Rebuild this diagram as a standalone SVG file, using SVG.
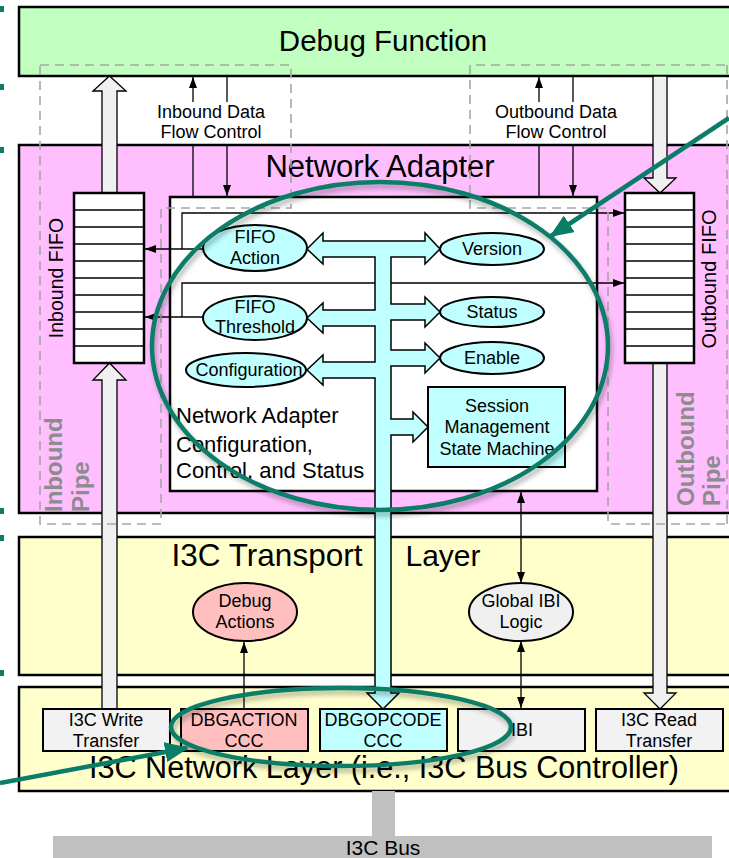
<svg xmlns="http://www.w3.org/2000/svg" width="729" height="858" viewBox="0 0 729 858">
<style>
text{font-family:"Liberation Sans",Arial,sans-serif;fill:#000}
.layer{stroke:#000;stroke-width:2.5}
.big{font-size:31px}
.sm{font-size:18px}
.node{stroke:#000;stroke-width:2}
.fifo{fill:#fff;stroke:#000;stroke-width:2.5}
.cell{stroke:#000;stroke-width:1.3}
.thin{fill:none;stroke:#000;stroke-width:1.3}
.dash{fill:none;stroke:#a6a6a6;stroke-width:1.6;stroke-dasharray:9,6}
.garrow{fill:#f0f0f0;stroke:#000;stroke-width:1.3}
.pipe{font-size:24px;font-weight:bold;fill:#8c8c8c}
.teal{fill:none;stroke:#0a7d68;stroke-width:4.5}
.mark{fill:#0a7d68}
</style>
<defs>
<marker id="ah" viewBox="0 0 11 8" refX="11" refY="4" markerWidth="11" markerHeight="8" markerUnits="userSpaceOnUse" orient="auto-start-reverse"><path d="M0,0 L11,4 L0,8 z" fill="#000"/></marker>
<marker id="th" viewBox="0 0 24 20" refX="22" refY="10" markerWidth="24" markerHeight="20" markerUnits="userSpaceOnUse" orient="auto"><path d="M0,0 L24,10 L0,20 z" fill="#0a7d68"/></marker>
<filter id="sh" x="-10%" y="-10%" width="120%" height="130%"><feDropShadow dx="2" dy="4" stdDeviation="2.5" flood-color="#000" flood-opacity="0.3"/></filter>
</defs>

<!-- layers -->
<g id="debug-function"><rect class="layer" x="19" y="7" width="730" height="69" fill="#c0ffc0"/><text x="383" y="51" text-anchor="middle" style="font-size:29.5px">Debug Function</text></g>
<g id="network-adapter"><rect class="layer" x="19" y="145" width="730" height="368" fill="#ffbfff"/><text class="big" x="380" y="177" text-anchor="middle">Network Adapter</text></g>
<g id="transport-layer"><rect class="layer" x="19" y="537" width="730" height="138" fill="#ffffcc"/><text class="big" x="267" y="566" text-anchor="middle" style="font-size:31.5px">I3C Transport</text><text class="big" x="443" y="566" text-anchor="middle" style="font-size:30px">Layer</text></g>
<g id="network-layer"><rect class="layer" x="19" y="687" width="730" height="104" fill="#ffffcc"/><text x="384" y="778" text-anchor="middle" style="font-size:30.6px">I3C Network Layer (i.e., I3C Bus Controller)</text></g>
<g id="i3c-bus"><rect x="372" y="791" width="23" height="46" fill="#c0c0c0"/><rect x="53" y="836" width="659" height="24" fill="#c0c0c0"/><text x="383" y="855" text-anchor="middle" style="font-size:21px">I3C Bus</text></g>

<!-- inner box -->
<g id="na-config"><rect x="170" y="197" width="427" height="294" fill="#fff" stroke="#000" stroke-width="2.5"/></g>

<!-- big gray arrows and connectors -->
<g id="connectors">
<polygon class="garrow" points="102,193 102,91 93,91 109.5,76 126,91 117,91 117,193"/>
<polygon class="garrow" points="102,709 102,380 93,380 109.5,363 126,380 117,380 117,709"/>
<polygon class="garrow" points="653,76 653,178 644,178 660,193 676,178 667,178 667,76"/>
<polygon class="garrow" points="653,363 653,693 644,693 660,709 676,693 667,693 667,363"/>

<line class="thin" x1="193" y1="197" x2="193" y2="145"/>
<line class="thin" x1="193" y1="102" x2="193" y2="77" marker-end="url(#ah)"/>
<line class="thin" x1="227" y1="76" x2="227" y2="102"/>
<line class="thin" x1="227" y1="145" x2="227" y2="196" marker-end="url(#ah)"/>
<line class="thin" x1="539" y1="197" x2="539" y2="145"/>
<line class="thin" x1="539" y1="102" x2="539" y2="77" marker-end="url(#ah)"/>
<line class="thin" x1="573" y1="76" x2="573" y2="102"/>
<line class="thin" x1="573" y1="145" x2="573" y2="196" marker-end="url(#ah)"/>

<polyline class="thin" points="182,249 182,213 624,213" marker-end="url(#ah)"/>
<polyline class="thin" points="182,317 182,283 624,283" marker-end="url(#ah)"/>
<line class="thin" x1="203" y1="249" x2="145" y2="249" marker-end="url(#ah)"/>
<line class="thin" x1="203" y1="317" x2="145" y2="317" marker-end="url(#ah)"/>

<line class="thin" x1="521" y1="583" x2="521" y2="492" marker-start="url(#ah)" marker-end="url(#ah)"/>
<line class="thin" x1="521" y1="641" x2="521" y2="708" marker-start="url(#ah)" marker-end="url(#ah)"/>
<line class="thin" x1="244" y1="709" x2="244" y2="642" marker-end="url(#ah)"/>

<polygon fill="#bfffff" stroke="#000" stroke-width="1.5" points="307,249 323,233 323,241 425,241 425,233 440,249 425,264 425,257 391,257 391,304 425,304 425,297 440,312 425,327 425,320 391,320 391,350 425,350 425,343 440,358 425,373 425,366 391,366 391,419 413,419 413,412 428,427 413,442 413,435 391,435 391,693 399,693 383,709 367,693 375,693 375,378 323,378 323,385 307,370 323,355 323,362 375,362 375,326 323,326 323,333 307,318 323,303 323,310 375,310 375,257 323,257 323,264"/>
</g>

<!-- dashed pipe outlines -->
<g id="inbound-pipe"><polygon class="dash" points="40,65 291,65 291,208 161,208 161,524 40,524"/>
<text class="pipe" transform="translate(62,512) rotate(-90)">Inbound</text><text class="pipe" transform="translate(89,512) rotate(-90)">Pipe</text></g>
<g id="outbound-pipe"><polyline class="dash" points="740,65 470,65 470,208 608,208 608,524 740,524"/><line class="dash" x1="727" y1="65" x2="727" y2="524"/>
<text class="pipe" transform="translate(694,506) rotate(-90)">Outbound</text><text class="pipe" transform="translate(720,506) rotate(-90)">Pipe</text></g>

<text class="sm" x="211" y="118" text-anchor="middle">Inbound Data</text>
<text class="sm" x="211" y="138" text-anchor="middle">Flow Control</text>
<text class="sm" x="556" y="118" text-anchor="middle">Outbound Data</text>
<text class="sm" x="556" y="138" text-anchor="middle">Flow Control</text>

<!-- FIFOs -->
<g id="inbound-fifo"><rect class="fifo" x="74" y="193" width="70" height="170"/>
<path class="cell" d="M74,210H144M74,227H144M74,244H144M74,261H144M74,278H144M74,295H144M74,312H144M74,329H144M74,346H144"/>
<text transform="translate(63,278) rotate(-90)" text-anchor="middle" style="font-size:19.5px">Inbound FIFO</text></g>
<g id="outbound-fifo"><rect class="fifo" x="625" y="193" width="69" height="170"/>
<path class="cell" d="M625,210H694M625,227H694M625,244H694M625,261H694M625,278H694M625,295H694M625,312H694M625,329H694M625,346H694"/>
<text transform="translate(716,279) rotate(-90)" text-anchor="middle" style="font-size:20px">Outbound FIFO</text></g>

<!-- nodes -->
<g id="fifo-action"><ellipse class="node" cx="255" cy="248" rx="52" ry="23" fill="#bfffff"/><text class="sm" x="255" y="243" text-anchor="middle">FIFO</text><text class="sm" x="255" y="264" text-anchor="middle">Action</text></g>
<g id="fifo-threshold"><ellipse class="node" cx="255" cy="318" rx="52" ry="22" fill="#bfffff"/><text class="sm" x="255" y="313" text-anchor="middle">FIFO</text><text class="sm" x="255" y="333" text-anchor="middle">Threshold</text></g>
<g id="configuration"><ellipse class="node" cx="246" cy="370" rx="60" ry="17" fill="#bfffff"/><text class="sm" x="249" y="376" text-anchor="middle">Configuration</text></g>
<g id="version"><ellipse class="node" cx="492" cy="249" rx="52" ry="16" fill="#bfffff"/><text class="sm" x="492" y="255" text-anchor="middle">Version</text></g>
<g id="status"><ellipse class="node" cx="492" cy="312" rx="52" ry="15" fill="#bfffff"/><text class="sm" x="492" y="318" text-anchor="middle">Status</text></g>
<g id="enable"><ellipse class="node" cx="492" cy="358" rx="52" ry="16" fill="#bfffff"/><text class="sm" x="492" y="364" text-anchor="middle">Enable</text></g>
<g id="session"><rect class="node" x="428" y="387" width="137" height="80" fill="#bfffff" stroke-width="2.5"/><text class="sm" x="497" y="412" text-anchor="middle">Session</text><text class="sm" x="497" y="433" text-anchor="middle">Management</text><text class="sm" x="497" y="455" text-anchor="middle">State Machine</text></g>
<g id="na-config-label"><text x="176" y="423" style="font-size:22px">Network Adapter</text><text x="176" y="452" style="font-size:22px">Configuration,</text><text x="176" y="478" style="font-size:22px">Control, and Status</text></g>

<g id="debug-actions"><ellipse class="node" cx="245" cy="612" rx="52" ry="29" fill="#ffbfbf"/><text class="sm" x="245" y="607" text-anchor="middle">Debug</text><text class="sm" x="245" y="628" text-anchor="middle">Actions</text></g>
<g id="global-ibi"><ellipse class="node" cx="521" cy="612" rx="52" ry="29" fill="#f0f0f0"/><text class="sm" x="521" y="607" text-anchor="middle">Global IBI</text><text class="sm" x="521" y="628" text-anchor="middle">Logic</text></g>

<g id="write-transfer"><rect class="node" x="43" y="709" width="127" height="42" fill="#f2f2f2"/><text class="sm" x="106" y="726" text-anchor="middle">I3C Write</text><text class="sm" x="106" y="747" text-anchor="middle">Transfer</text></g>
<g id="dbgaction"><rect class="node" x="181" y="709" width="127" height="42" fill="#ffbfbf"/><text class="sm" x="244" y="726" text-anchor="middle">DBGACTION</text><text class="sm" x="244" y="747" text-anchor="middle">CCC</text></g>
<g id="dbgopcode"><rect class="node" x="320" y="709" width="127" height="42" fill="#bfffff"/><text class="sm" x="383" y="726" text-anchor="middle">DBGOPCODE</text><text class="sm" x="383" y="747" text-anchor="middle">CCC</text></g>
<g id="ibi"><rect class="node" x="458" y="709" width="127" height="42" fill="#f2f2f2"/><text class="sm" x="522" y="736" text-anchor="middle">IBI</text></g>
<g id="read-transfer"><rect class="node" x="596" y="709" width="127" height="42" fill="#f2f2f2"/><text class="sm" x="659" y="726" text-anchor="middle">I3C Read</text><text class="sm" x="659" y="747" text-anchor="middle">Transfer</text></g>

<!-- teal annotations -->
<g id="annotations">
<ellipse class="teal" cx="380" cy="346" rx="228" ry="164" filter="url(#sh)"/>
<ellipse class="teal" cx="341" cy="727" rx="170" ry="39" filter="url(#sh)"/>
<line class="teal" x1="729" y1="118" x2="551" y2="236" marker-end="url(#th)"/>
<line class="teal" x1="0" y1="783" x2="187" y2="748" marker-end="url(#th)"/>
<rect class="mark" x="0" y="6" width="4" height="6"/>
<rect class="mark" x="0" y="84" width="4" height="6"/>
<rect class="mark" x="0" y="147" width="4" height="6"/>
<rect class="mark" x="0" y="508" width="4" height="6"/>
<rect class="mark" x="0" y="535" width="4" height="6"/>
<rect class="mark" x="0" y="670" width="4" height="6"/>
</g>
</svg>
